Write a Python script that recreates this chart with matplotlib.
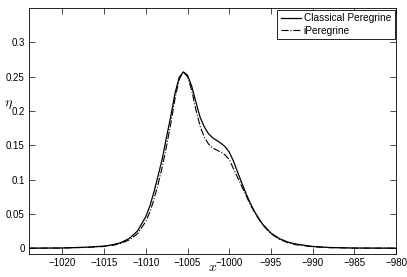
import numpy as np
import matplotlib.pyplot as plt

plt.rcParams['font.family'] = ['Liberation Sans', 'DejaVu Sans']
plt.rcParams['mathtext.fontset'] = 'cm'

# x positions and surface elevation
x = [-1024, -1020, -1017, -1015, -1014, -1013, -1012, -1011, -1010, -1009.5,
     -1009, -1008.5, -1008, -1007.5, -1007, -1006.5, -1006, -1005.5, -1005, -1004.5,
     -1004, -1003.5, -1003, -1002.5, -1002, -1001.5, -1001, -1000.5, -1000, -999.5,
     -999, -998.5, -998, -997.5, -997, -996.5, -996, -995, -994, -993,
     -992, -990, -988, -985, -980]

eta_classical = [0, 0.0003, 0.0015, 0.003, 0.005, 0.008, 0.014, 0.025, 0.046, 0.062,
                 0.083, 0.107, 0.132, 0.163, 0.193, 0.226, 0.249, 0.257, 0.252, 0.236,
                 0.213, 0.191, 0.177, 0.167, 0.161, 0.157, 0.153, 0.148, 0.140, 0.127,
                 0.111, 0.095, 0.080, 0.066, 0.054, 0.044, 0.035, 0.022, 0.014, 0.009,
                 0.006, 0.0025, 0.001, 0.0002, 0]

eta_ipere = [0, 0.0002, 0.0012, 0.0025, 0.004, 0.007, 0.012, 0.021, 0.039, 0.053,
             0.072, 0.095, 0.120, 0.150, 0.182, 0.218, 0.246, 0.257, 0.250, 0.230,
             0.202, 0.178, 0.162, 0.152, 0.146, 0.143, 0.140, 0.136, 0.129, 0.116,
             0.103, 0.090, 0.077, 0.064, 0.053, 0.043, 0.034, 0.021, 0.013, 0.008,
             0.005, 0.002, 0.0008, 0.0001, 0]

xticks = np.arange(-1020, -979, 5)
yticks = [0, 0.05, 0.1, 0.15, 0.2, 0.25, 0.3]
ytick_labels = ['0', '0.05', '0.1', '0.15', '0.2', '0.25', '0.3']

fig = plt.figure(figsize=(4.07, 2.77), dpi=100)
ax = fig.add_axes([0.0713, 0.083, 0.902, 0.888])

ax.plot(x, eta_classical, color='black', lw=0.9, label='Classical Peregrine')
ax.plot(x, eta_ipere, color='black', lw=0.8, ls='-.', label='iPeregrine')

ax.set_xlim(-1024, -980)
ax.set_ylim(-0.0085, 0.35)
ax.set_xticks(xticks)
ax.set_yticks(yticks)
ax.set_yticklabels(ytick_labels)
ax.tick_params(direction='in', top=True, right=True, length=4, width=0.5,
               labelsize=7, pad=3)
for s in ax.spines.values():
    s.set_linewidth(0.6)

ax.set_xlabel('$x$', fontsize=10)
ax.xaxis.set_label_coords(0.5, -0.025)
ax.set_ylabel(r'$\eta$', fontsize=10, rotation=0)
ax.yaxis.set_label_coords(-0.055, 0.58)

leg = ax.legend(loc='upper right', fontsize=7.3, frameon=True, fancybox=False,
                edgecolor='black', framealpha=1, borderpad=0.35, handlelength=2.0,
                handletextpad=0.25, labelspacing=0.25, borderaxespad=0.15)
leg.get_frame().set_linewidth(0.6)

fig.savefig('out.png', dpi=100)
